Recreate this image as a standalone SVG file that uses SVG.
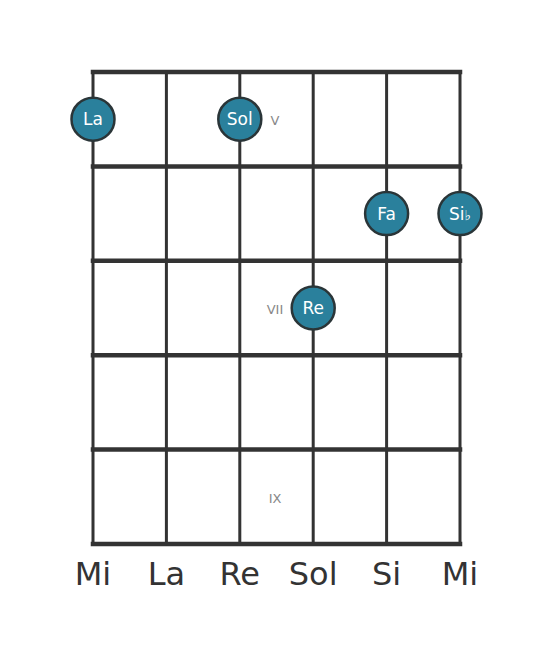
<svg xmlns="http://www.w3.org/2000/svg" width="553" height="656" viewBox="0 0 553 656">
<style>
.fret{stroke:#333;stroke-width:4.5;stroke-linecap:square}
.str{stroke:#333;stroke-width:3}
.dot{fill:#2a809c;stroke:#2a3538;stroke-width:2.5}
.nt{font-family:"DejaVu Sans",sans-serif;font-size:17px;fill:#fff;text-anchor:middle}
.rn{font-family:"DejaVu Sans",sans-serif;font-size:13px;fill:#888;text-anchor:middle}
.sl{font-family:"DejaVu Sans",sans-serif;font-size:32px;fill:#333;text-anchor:middle}
</style>
<rect width="553" height="656" fill="#fff"/>
<g id="connectors">
<line class="str" x1="93" y1="72" x2="93" y2="544"/>
<line class="str" x1="166.4" y1="72" x2="166.4" y2="544"/>
<line class="str" x1="239.8" y1="72" x2="239.8" y2="544"/>
<line class="str" x1="313.2" y1="72" x2="313.2" y2="544"/>
<line class="str" x1="386.6" y1="72" x2="386.6" y2="544"/>
<line class="str" x1="460" y1="72" x2="460" y2="544"/>
<line class="fret" x1="93" y1="72" x2="460" y2="72"/>
<line class="fret" x1="93" y1="166.4" x2="460" y2="166.4"/>
<line class="fret" x1="93" y1="260.8" x2="460" y2="260.8"/>
<line class="fret" x1="93" y1="355.2" x2="460" y2="355.2"/>
<line class="fret" x1="93" y1="449.6" x2="460" y2="449.6"/>
<line class="fret" x1="93" y1="544" x2="460" y2="544"/>
</g>
<g id="fret-labels">
<text class="rn" x="275" y="125">V</text>
<text class="rn" x="275" y="314">VII</text>
<text class="rn" x="275" y="503">IX</text>
</g>
<g id="n-la"><circle class="dot" cx="93" cy="119.2" r="21.5"/><text class="nt" x="93" y="125.3">La</text></g>
<g id="n-sol"><circle class="dot" cx="239.8" cy="119.2" r="21.5"/><text class="nt" x="239.8" y="125.3">Sol</text></g>
<g id="n-fa"><circle class="dot" cx="386.6" cy="213.6" r="21.5"/><text class="nt" x="386.6" y="219.7">Fa</text></g>
<g id="n-sib"><circle class="dot" cx="460" cy="213.6" r="21.5"/><text class="nt" x="460" y="219.7">Si<tspan font-size="14px">♭</tspan></text></g>
<g id="n-re"><circle class="dot" cx="313.2" cy="308" r="21.5"/><text class="nt" x="313.2" y="314.1">Re</text></g>
<g id="string-labels">
<text class="sl" x="93" y="585">Mi</text>
<text class="sl" x="166.4" y="585">La</text>
<text class="sl" x="239.8" y="585">Re</text>
<text class="sl" x="313.2" y="585">Sol</text>
<text class="sl" x="386.6" y="585">Si</text>
<text class="sl" x="460" y="585">Mi</text>
</g>
</svg>
